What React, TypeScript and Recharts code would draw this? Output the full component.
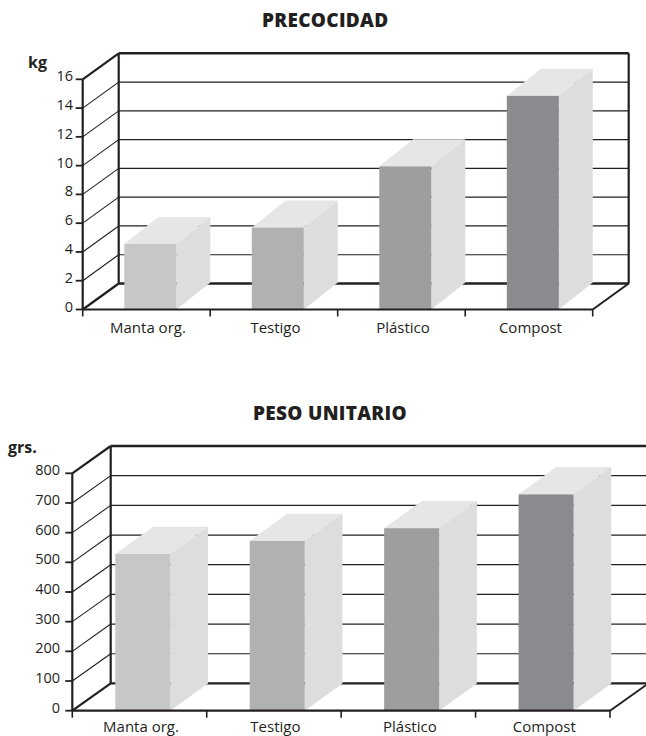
import { BarChart, Bar, XAxis, YAxis, CartesianGrid } from "recharts";

const categories = ["Manta org.", "Testigo", "Plástico", "Compost"];
const precocidadValues = [4.55, 5.7, 9.95, 14.85];
const pesoValues = [528, 572, 615, 729];
const precocidadTicks = [0, 2, 4, 6, 8, 10, 12, 14, 16];
const pesoTicks = [0, 100, 200, 300, 400, 500, 600, 700, 800];
const barColors = ["#c6c7c9", "#b0b1b3", "#9d9ea0", "#8a8b8e"];

const FONT = "'Open Sans', sans-serif";
const INK = "#231f20";

interface Panel3DProps {
  top: number;
  height: number;
  values: number[];
  ticks: number[];
  plotLeft: number;
  plotRight: number;
  plotTop: number;
  plotBottom: number;
  wallDx: number;
  wallDy: number;
  boxDx: number;
  boxDy: number;
  barWidth: number;
  barShift: number;
  labelRight: number;
  labelDrop: number;
  closeRightWall: boolean;
}

function Panel3D(p: Panel3DProps) {
  const data = categories.map((name, i) => ({ name, value: p.values[i] }));
  const band = (p.plotRight - p.plotLeft) / categories.length;
  const tickSize = 7;

  // back wall lines plus the diagonal running to the front axis
  const wallLine = (g: any) => {
    const isTop = Math.abs(g.y1 - g.y) < 0.5;
    const isFloor = Math.abs(g.y1 - (g.y + g.height)) < 0.5;
    const heavy = isTop || isFloor;
    const bx = g.x1 + p.wallDx;
    const by = g.y1 - p.wallDy;
    const endX = g.x2 + p.wallDx;
    return (
      <g key={g.key}>
        <line x1={g.x1} y1={g.y1} x2={bx} y2={by} stroke={INK} strokeWidth={heavy ? 2.2 : 1.1} />
        <line x1={bx} y1={by} x2={endX} y2={by} stroke={INK} strokeWidth={heavy ? 2.4 : 1.2} />
        {isFloor && (
          <>
            <line x1={bx} y1={by} x2={bx} y2={g.y - p.wallDy} stroke={INK} strokeWidth={2.2} />
            <line x1={g.x2} y1={g.y1} x2={endX} y2={by} stroke={INK} strokeWidth={2} />
            {p.closeRightWall && (
              <line x1={endX} y1={by} x2={endX} y2={g.y - p.wallDy} stroke={INK} strokeWidth={2.2} />
            )}
          </>
        )}
      </g>
    );
  };

  const box = (b: any) => {
    const x = b.x + p.barShift;
    const r = x + b.width;
    const bottom = b.y + b.height;
    return (
      <g>
        <polygon
          points={`${x},${b.y} ${x + p.boxDx},${b.y - p.boxDy} ${r + p.boxDx},${b.y - p.boxDy} ${r},${b.y}`}
          fill="#e5e6e7"
        />
        <polygon
          points={`${r},${b.y} ${r + p.boxDx},${b.y - p.boxDy} ${r + p.boxDx},${bottom - p.boxDy} ${r},${bottom}`}
          fill="#dcddde"
        />
        <rect x={x} y={b.y} width={b.width} height={b.height} fill={barColors[b.index]} />
      </g>
    );
  };

  // category label in the middle of the band, tick marks on the band edges
  const categoryTick = (t: any) => (
    <g>
      {t.index === 0 && (
        <line x1={t.x - band / 2} y1={t.y - 8} x2={t.x - band / 2} y2={t.y - 1} stroke={INK} strokeWidth={1.6} />
      )}
      <line x1={t.x + band / 2} y1={t.y - 8} x2={t.x + band / 2} y2={t.y - 1} stroke={INK} strokeWidth={1.6} />
      <text x={t.x + 1.5} y={t.y + p.labelDrop} textAnchor="middle" fontSize={15} fontFamily={FONT} fill={INK}>
        {t.payload.value}
      </text>
    </g>
  );

  const valueTick = (t: any) => (
    <text x={p.labelRight} y={t.y + 2} textAnchor="end" fontSize={14.5} fontFamily={FONT} fill={INK}>
      {t.payload.value}
    </text>
  );

  return (
    <div style={{ position: "absolute", left: 0, top: p.top }}>
      <BarChart
        width={646}
        height={p.height}
        data={data}
        barCategoryGap={0}
        margin={{ top: p.plotTop, right: 646 - p.plotRight, bottom: 0, left: 0 }}
      >
        <CartesianGrid vertical={false} horizontal={wallLine} />
        <XAxis
          dataKey="name"
          height={p.height - p.plotBottom}
          axisLine={{ stroke: INK, strokeWidth: 2.2 }}
          tickLine={false}
          tick={categoryTick}
          interval={0}
        />
        <YAxis
          width={p.plotLeft}
          domain={[p.ticks[0], p.ticks[p.ticks.length - 1]]}
          ticks={p.ticks}
          interval={0}
          axisLine={{ stroke: INK, strokeWidth: 2.2 }}
          tickLine={{ stroke: INK, strokeWidth: 1.8 }}
          tickSize={tickSize}
          tick={valueTick}
        />
        <Bar dataKey="value" barSize={p.barWidth} shape={box} isAnimationActive={false} />
      </BarChart>
    </div>
  );
}

const headingStyle = {
  position: "absolute",
  fontFamily: FONT,
  fontWeight: 800,
  color: INK,
  whiteSpace: "nowrap",
  lineHeight: 1,
} as const;

export default function App() {
  return (
    <div
      style={{
        position: "absolute",
        left: 0,
        top: 0,
        width: 646,
        height: 736,
        overflow: "hidden",
        background: "#fff",
      }}
    >
      <div style={{ ...headingStyle, left: 262, top: 11, fontSize: 19, letterSpacing: 0.3 }}>PRECOCIDAD</div>
      <div style={{ ...headingStyle, left: 28, top: 54, fontSize: 16, fontWeight: 700 }}>kg</div>
      <Panel3D
        top={0}
        height={345}
        values={precocidadValues}
        ticks={precocidadTicks}
        plotLeft={82.7}
        plotRight={592.7}
        plotTop={79.3}
        plotBottom={309.5}
        wallDx={36}
        wallDy={26}
        boxDx={34}
        boxDy={27}
        barWidth={52}
        barShift={3.6}
        labelRight={73}
        labelDrop={15}
        closeRightWall={true}
      />

      <div style={{ ...headingStyle, left: 253, top: 404, fontSize: 19, letterSpacing: 0.3 }}>PESO UNITARIO</div>
      <div style={{ ...headingStyle, left: 8, top: 439, fontSize: 16, fontWeight: 700 }}>grs.</div>
      <Panel3D
        top={390}
        height={346}
        values={pesoValues}
        ticks={pesoTicks}
        plotLeft={72.3}
        plotRight={610}
        plotTop={83.3}
        plotBottom={320.7}
        wallDx={38.4}
        wallDy={27.3}
        boxDx={37.7}
        boxDy={27.3}
        barWidth={55}
        barShift={3}
        labelRight={60}
        labelDrop={13}
        closeRightWall={false}
      />
    </div>
  );
}
